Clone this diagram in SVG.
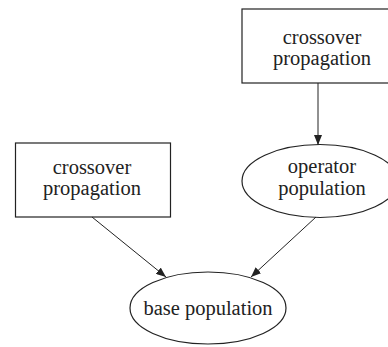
<svg xmlns="http://www.w3.org/2000/svg" width="388" height="347" viewBox="0 0 388 347">
<defs>
<style>
.n{fill:none;stroke:#222;stroke-width:1.2}
.t{font-family:'Liberation Serif','Times New Roman',serif;font-size:20.5px;fill:#222;text-anchor:middle}
.e{stroke:#222;stroke-width:1;fill:none}
</style>
<marker id="ah" viewBox="0 0 10 8" refX="10" refY="4" markerWidth="10" markerHeight="8" markerUnits="userSpaceOnUse" orient="auto">
<path d="M0,0 L10,4 L0,8 Z" fill="#222"/>
</marker>
</defs>
<rect width="388" height="347" fill="#fff"/>
<g id="connectors">
<line class="e" x1="318" y1="83" x2="318" y2="145" marker-end="url(#ah)"/>
<line class="e" x1="92" y1="217" x2="166" y2="277" marker-end="url(#ah)"/>
<line class="e" x1="316" y1="217" x2="251" y2="277" marker-end="url(#ah)"/>
</g>
<g id="crossover1">
<rect class="n" x="242" y="9" width="150" height="74"/>
<text class="t" x="322" y="44">crossover</text>
<text class="t" x="322" y="65">propagation</text>
</g>
<g id="crossover2">
<rect class="n" x="15.5" y="143" width="155" height="74"/>
<text class="t" x="92" y="174">crossover</text>
<text class="t" x="92" y="195">propagation</text>
</g>
<g id="operator">
<ellipse class="n" cx="320" cy="181" rx="78" ry="36.5"/>
<text class="t" x="322" y="173">operator</text>
<text class="t" x="322" y="195">population</text>
</g>
<g id="base">
<ellipse class="n" cx="208" cy="308" rx="78" ry="36"/>
<text class="t" x="208" y="315">base population</text>
</g>
</svg>
